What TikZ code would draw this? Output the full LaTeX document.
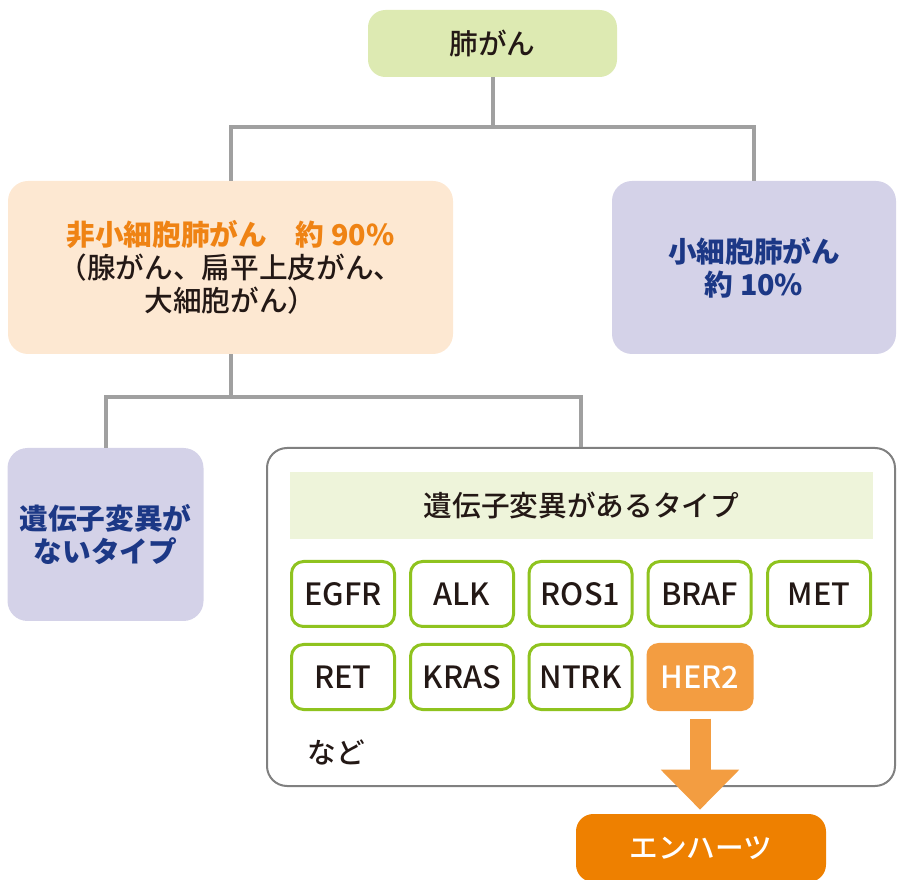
\documentclass[tikz,border=0pt]{standalone}
\usepackage{fontspec}
\setmainfont{Noto Sans CJK JP}
\newfontfamily\medfont{Noto Sans CJK JP Medium}
\usetikzlibrary{arrows.meta}
\definecolor{lunggreen}{RGB}{221,234,178}
\definecolor{nsclcfill}{RGB}{253,232,210}
\definecolor{nsclctext}{RGB}{239,131,20}
\definecolor{sclcfill}{RGB}{212,210,232}
\definecolor{sclctext}{RGB}{28,56,134}
\definecolor{linegray}{RGB}{160,160,160}
\definecolor{boxgray}{RGB}{128,128,128}
\definecolor{bandgreen}{RGB}{238,244,218}
\definecolor{genegreen}{RGB}{143,195,31}
\definecolor{her2orange}{RGB}{243,157,65}
\definecolor{drugorange}{RGB}{238,128,0}
\definecolor{textblack}{RGB}{35,24,21}
\newcommand\boxfont{\medfont\fontsize{21.5}{25}\selectfont}
\newcommand\genefont{\medfont\fontsize{23}{27}\selectfont}
\begin{document}
\begin{tikzpicture}[x=0.75pt,y=-0.75pt,
        conn/.style={draw=linegray,line width=3pt},
        colbox/.style={rounded corners=15pt,align=center,font=\boxfont,inner sep=0pt,text=textblack},
        gene/.style={draw=genegreen,line width=2.25pt,fill=white,rounded corners=9pt,
            minimum width=77.25pt,minimum height=48.75pt,inner sep=0pt,font=\genefont,text=textblack},
        fatarrow/.style={draw=her2orange,line width=15.75pt,-{Triangle[width=57pt,length=30pt]}}
    ]
    \useasboundingbox (0,0) rectangle (897,880);
    % top level
    \node[colbox,fill=lunggreen,rounded corners=13pt,minimum width=186.75pt,minimum height=50.25pt] (lung) at (492.5,43.5) {肺がん};
    \node[colbox,fill=nsclcfill,minimum width=333.75pt,minimum height=129.75pt] (nsclc) at (230.5,267.5)
        {{\color{nsclctext}\normalfont\fontsize{21.5}{25}\selectfont\bfseries 非小細胞肺がん\quad 約 90\%}\\（腺がん、扁平上皮がん、\\大細胞がん）};
    \node[colbox,fill=sclcfill,text=sclctext,font=\normalfont\fontsize{21.5}{25}\selectfont\bfseries,minimum width=213pt,minimum height=129.75pt] (sclc) at (754,267.5)
        {小細胞肺がん\\約 10\%};
    \coordinate (j1) at (492.5,127);
    \draw[conn] (lung.south) -- (j1) -| (nsclc.north);
    \draw[conn] (j1) -| (sclc.north);
    % second level
    \node[colbox,fill=sclcfill,text=sclctext,font=\normalfont\fontsize{21.5}{25}\selectfont\bfseries,minimum width=147pt,minimum height=129.75pt] (nomut) at (105.5,534.5)
        {遺伝子変異が\\ないタイプ};
    \node[draw=boxgray,line width=1.5pt,fill=white,rounded corners=15pt,minimum width=471pt,minimum height=253.5pt] (mutbox) at (581,617) {};
    \coordinate (j2) at (230.5,397);
    \draw[conn] (nsclc.south) -- (j2) -| (nomut.north);
    \draw[conn] (j2) -| (mutbox.north);
    \node[fill=bandgreen,minimum width=437.25pt,minimum height=50.25pt,font=\boxfont,text=textblack] (band) at (581.5,505.5) {遺伝子変異があるタイプ};
    % genes
    \foreach \gname/\gx/\gy in {EGFR/343/594,ALK/462/594,ROS1/580.5/594,BRAF/699.5/594,MET/819/594,
            RET/343/677,KRAS/462/677,NTRK/580.5/677}
        \node[gene] (g-\gname) at (\gx,\gy) {\gname};
    \node[fill=her2orange,text=white,rounded corners=9pt,minimum width=80.25pt,minimum height=51pt,inner sep=0pt,font=\genefont] (her2) at (700,677) {HER2};
    \node[font=\boxfont,text=textblack] (etc) at (336,752) {など};
    % drug
    \node[fill=drugorange,text=white,rounded corners=13pt,minimum width=187.5pt,minimum height=51pt,inner sep=0pt,font=\boxfont] (enhertu) at (701,848) {エンハーツ};
    \draw[fatarrow,shorten <=5.6pt,shorten >=3pt] (her2.south) -- (her2.south |- enhertu.north);
\end{tikzpicture}
\end{document}
